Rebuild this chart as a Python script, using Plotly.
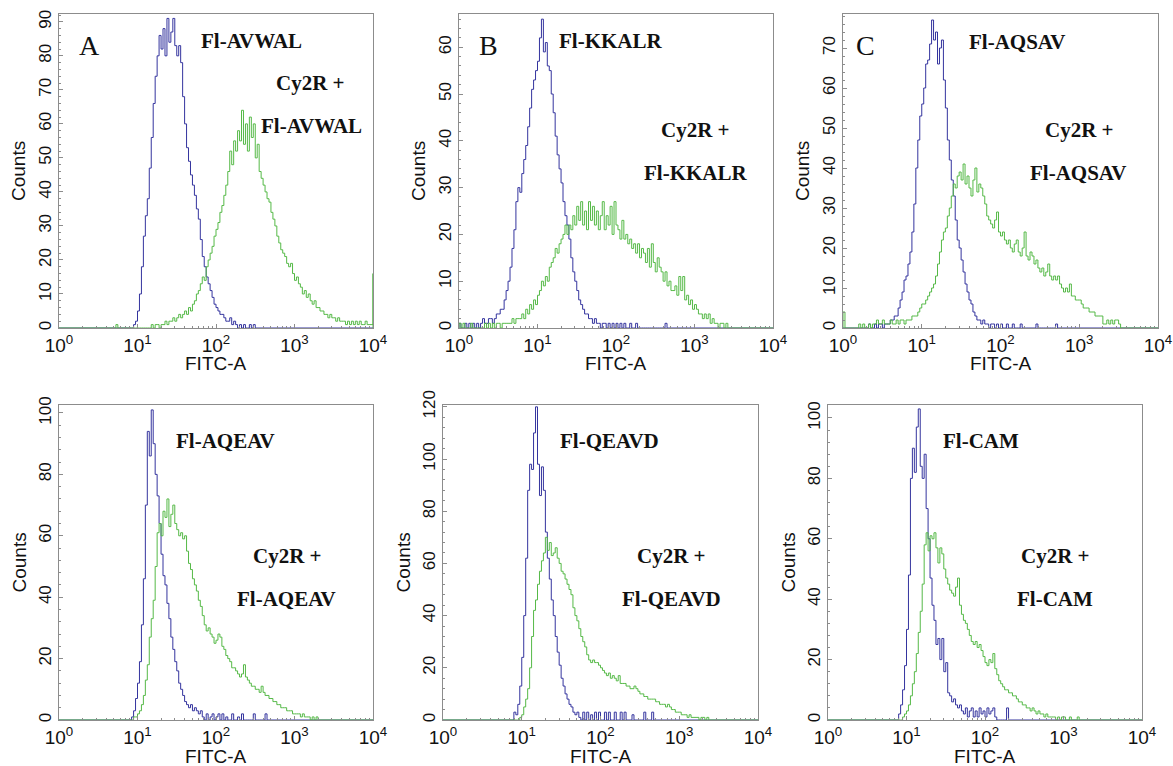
import plotly.graph_objects as go

W, H = 1173, 766
STEP = 0.025  # width of one histogram channel, in decades of FITC-A

BLUE = "#34349e"
GREEN = "#55b947"

# ---------------- A : Fl-AVWAL ----------------
a_blue_start = 0.925
a_blue = [0, 1, 2, 5, 10, 18, 27, 33, 38, 47,
          56, 66, 74, 80, 86, 82, 88, 80, 91, 84,
          87, 91, 83, 80, 83, 78, 68, 60, 53, 49,
          45, 42, 39, 35, 32, 26, 21, 18, 15, 13,
          11, 9, 7, 6, 5, 4, 4, 3, 2, 2,
          3, 1, 2, 1, 0, 1, 0, 1, 0, 0,
          1, 0, 1, 0]
a_green_start = 0.700
a_green = [0, 1, 0, 0, 0, 0, 0, 0, 0, 0,
           0, 0, 0, 0, 0, 0, 0, 0, 0, 1,
           0, 1, 1, 0, 1, 1, 2, 1, 2, 2,
           3, 2, 3, 4, 3, 4, 5, 4, 6, 5,
           7, 8, 10, 11, 13, 15, 14, 18, 20, 22,
           24, 27, 29, 31, 34, 36, 39, 42, 46, 52,
           48, 55, 52, 58, 55, 64, 54, 60, 52, 62,
           56, 60, 50, 54, 46, 44, 42, 40, 38, 37,
           34, 32, 30, 27, 25, 23, 22, 21, 19, 18,
           19, 16, 14, 15, 13, 12, 10, 11, 9, 10,
           8, 7, 8, 6, 6, 5, 5, 4, 4, 3,
           4, 3, 3, 2, 3, 2, 2, 2, 1, 2,
           1, 2, 1, 2, 1, 2, 1, 1, 2, 1,
           1, 1, 16]

# ---------------- B : Fl-KKALR ----------------
b_blue_start = 0.000
b_blue = [1, 0, 0, 1, 0, 1, 0, 1, 0, 1,
          0, 1, 2, 1, 1, 2, 2, 1, 2, 3,
          3, 4, 4, 6, 8, 10, 13, 17, 21, 27,
          30, 29, 33, 36, 39, 43, 47, 51, 53, 55,
          57, 62, 66, 59, 61, 56, 55, 50, 46, 41,
          37, 34, 31, 27, 24, 22, 19, 15, 12, 10,
          8, 6, 5, 4, 3, 3, 2, 2, 1, 2,
          1, 1, 0, 1, 1, 0, 1, 0, 1, 0,
          1, 0, 1, 0, 1, 0, 0, 1, 0, 0,
          1, 0, 0, 0, 0, 0, 0, 0, 0, 0,
          0, 0, 0, 0, 0, 1, 0]
b_green_start = 0.000
b_green = [1, 0, 1, 0, 0, 0, 1, 0, 0, 0,
           0, 0, 0, 1, 0, 1, 0, 1, 0, 1,
           1, 0, 1, 1, 1, 1, 1, 2, 1, 2,
           2, 2, 3, 2, 4, 3, 5, 4, 6, 5,
           7, 8, 10, 9, 11, 10, 13, 14, 15, 17,
           16, 18, 19, 20, 22, 20, 22, 21, 24, 22,
           26, 23, 27, 22, 25, 21, 27, 23, 26, 22,
           25, 21, 24, 27, 21, 24, 22, 26, 20, 27,
           22, 21, 19, 23, 19, 20, 18, 19, 17, 18,
           16, 18, 15, 17, 16, 14, 17, 13, 18, 14,
           12, 15, 13, 12, 10, 12, 9, 10, 8, 8,
           9, 7, 11, 8, 11, 6, 7, 5, 6, 4,
           5, 4, 3, 3, 2, 3, 2, 3, 1, 2,
           1, 1, 0, 1, 1, 0, 1, 0]

# ---------------- C : Fl-AQSAV ----------------
c_blue_start = 0.300
c_blue = [0, 1, 0, 0, 1, 0, 1, 1, 0, 1,
          1, 1, 2, 2, 3, 3, 5, 7, 9, 12,
          13, 16, 19, 24, 31, 40, 47, 53, 56, 60,
          66, 67, 71, 77, 72, 74, 66, 70, 72, 62,
          55, 47, 42, 37, 33, 27, 22, 20, 17, 14,
          11, 9, 7, 6, 4, 3, 2, 2, 1, 2,
          1, 1, 0, 1, 1, 0, 1, 0, 1, 0,
          0, 1, 0, 0, 1, 0, 0, 0, 1, 0,
          0, 0, 0, 0, 0, 0, 1, 0, 0, 0,
          0, 0, 0, 0, 0, 0, 1, 0]
c_green_start = 0.000
c_green = [4, 0, 0, 0, 0, 0, 0, 0, 1, 0,
           1, 0, 0, 1, 0, 1, 1, 2, 1, 1,
           2, 1, 1, 1, 2, 1, 1, 2, 1, 2,
           2, 1, 2, 2, 2, 3, 3, 3, 4, 5,
           6, 6, 7, 8, 9, 10, 11, 13, 16, 19,
           22, 24, 25, 28, 30, 33, 36, 35, 38, 39,
           37, 41, 36, 38, 35, 33, 37, 40, 34, 36,
           35, 33, 31, 28, 27, 26, 25, 27, 29, 24,
           23, 24, 22, 21, 22, 20, 19, 21, 22, 19,
           18, 20, 24, 18, 17, 19, 18, 16, 17, 15,
           14, 15, 13, 14, 16, 13, 12, 13, 12, 13,
           11, 10, 9, 10, 9, 11, 8, 8, 7, 7,
           7, 6, 5, 5, 5, 4, 4, 4, 3, 3,
           3, 3, 1, 1, 2, 1, 2, 1, 2, 2,
           1, 0]

# ---------------- D : Fl-AQEAV ----------------
d_blue_start = 0.900
d_blue = [0, 1, 3, 7, 12, 19, 31, 46, 70, 94,
          86, 101, 90, 80, 73, 64, 54, 47, 44, 38,
          33, 27, 23, 19, 16, 12, 10, 8, 6, 5,
          4, 5, 3, 4, 3, 2, 3, 1, 0, 2,
          0, 1, 2, 0, 1, 2, 0, 2, 0, 1,
          0, 0, 2, 0, 0, 1, 0, 2, 0, 0,
          0, 0, 0, 2, 0, 0, 0, 0, 0, 2,
          0]
d_green_start = 0.925
d_green = [0, 1, 1, 2, 3, 5, 8, 13, 18, 27,
           33, 39, 50, 61, 64, 60, 68, 66, 72, 63,
           67, 70, 64, 62, 60, 61, 59, 60, 55, 51,
           49, 46, 44, 42, 39, 37, 34, 31, 29, 30,
           28, 27, 25, 26, 28, 27, 24, 23, 21, 20,
           19, 17, 17, 16, 15, 14, 15, 18, 14, 13,
           12, 11, 11, 10, 10, 9, 11, 9, 8, 8,
           7, 7, 6, 6, 5, 5, 4, 4, 4, 3,
           3, 3, 2, 2, 2, 2, 1, 2, 1, 1,
           1, 0, 1, 0, 1, 0]

# ---------------- E : Fl-QEAVD ----------------
e_blue_start = 0.875
e_blue = [0, 3, 2, 6, 13, 24, 40, 62, 88, 98,
          96, 110, 120, 98, 86, 97, 88, 72, 62, 54,
          46, 40, 32, 26, 21, 16, 13, 10, 8, 6,
          5, 3, 2, 3, 1, 0, 3, 0, 3, 0,
          2, 0, 3, 0, 3, 0, 0, 3, 0, 3,
          0, 0, 3, 0, 0, 3, 0, 3, 0, 0,
          0, 2, 0, 0, 0, 0, 0, 3, 0, 0,
          0, 3, 0]
e_green_start = 0.950
e_green = [0, 1, 2, 5, 8, 12, 20, 32, 42, 46,
           52, 57, 61, 64, 70, 65, 68, 63, 64, 66,
           62, 60, 57, 56, 54, 52, 50, 48, 43, 40,
           38, 35, 32, 30, 28, 25, 23, 22, 23, 22,
           22, 21, 20, 19, 18, 17, 18, 16, 17, 16,
           15, 17, 14, 14, 14, 13, 13, 12, 12, 13,
           12, 11, 10, 10, 9, 9, 8, 8, 8, 8,
           7, 7, 6, 6, 6, 5, 6, 5, 4, 4,
           3, 3, 3, 2, 2, 2, 1, 2, 1, 1,
           1, 1, 0, 1, 1, 0, 1, 0]

# ---------------- F : Fl-CAM ----------------
f_blue_start = 0.875
f_blue = [0, 2, 5, 10, 18, 30, 48, 80, 90, 82,
          97, 103, 84, 80, 88, 70, 60, 47, 38, 33,
          25, 27, 20, 27, 16, 19, 9, 8, 6, 7,
          5, 4, 5, 3, 2, 4, 1, 3, 4, 1,
          3, 1, 4, 2, 3, 1, 4, 2, 3, 4,
          1, 0, 0, 0, 0, 0, 4, 0]
f_green_start = 0.925
f_green = [0, 1, 2, 3, 5, 8, 12, 16, 22, 29,
           36, 45, 58, 62, 56, 61, 60, 62, 57, 52,
           57, 55, 50, 47, 45, 43, 42, 41, 44, 47,
           38, 35, 33, 32, 30, 28, 26, 25, 26, 24,
           25, 23, 21, 19, 18, 20, 19, 22, 17, 15,
           13, 12, 11, 10, 10, 9, 9, 8, 8, 7,
           6, 6, 5, 5, 4, 4, 3, 4, 3, 2,
           3, 2, 2, 1, 2, 1, 1, 1, 1, 0,
           1, 0, 1, 1, 0, 0, 1, 0, 0, 0,
           1, 0]

x_tick_vals = [1, 10, 100, 1000, 10000]
x_tick_text = ["10<sup>0</sup>", "10<sup>1</sup>", "10<sup>2</sup>",
               "10<sup>3</sup>", "10<sup>4</sup>"]
x_minor_vals = [m * d for d in (1, 10, 100, 1000) for m in range(2, 10)]

peptides = ["Fl-AVWAL", "Fl-KKALR", "Fl-AQSAV", "Fl-AQEAV", "Fl-QEAVD", "Fl-CAM"]
panel_letters = ["A", "B", "C", "", "", ""]

# layout of each panel: plot box in pixels (left, top, right, bottom), y range, y tick step
panels = [
    dict(blue=(a_blue_start, a_blue), green=(a_green_start, a_green),
         box=(59, 14, 373, 328), ymax=92.3, dtick=10,
         letter_xy=(89, 46), name_xy=(251, 41), cy_xy=(310, 83), name2_xy=(311, 126)),
    dict(blue=(b_blue_start, b_blue), green=(b_green_start, b_green),
         box=(459, 14, 773, 328), ymax=67.1, dtick=10,
         letter_xy=(488, 46), name_xy=(610, 41), cy_xy=(695, 130), name2_xy=(695, 173)),
    dict(blue=(c_blue_start, c_blue), green=(c_green_start, c_green),
         box=(843, 14, 1158, 328), ymax=78.5, dtick=10,
         letter_xy=(865, 46), name_xy=(1017, 42), cy_xy=(1079, 130), name2_xy=(1078, 173)),
    dict(blue=(d_blue_start, d_blue), green=(d_green_start, d_green),
         box=(59, 405, 373, 720), ymax=102.6, dtick=20,
         letter_xy=None, name_xy=(225, 441), cy_xy=(287, 556), name2_xy=(286, 599)),
    dict(blue=(e_blue_start, e_blue), green=(e_green_start, e_green),
         box=(443, 405, 758, 720), ymax=120.7, dtick=20,
         letter_xy=None, name_xy=(609, 441), cy_xy=(671, 556), name2_xy=(671, 599)),
    dict(blue=(f_blue_start, f_blue), green=(f_green_start, f_green),
         box=(828, 405, 1142, 720), ymax=104.3, dtick=20,
         letter_xy=None, name_xy=(981, 441), cy_xy=(1055, 556), name2_xy=(1055, 599)),
]


def hist_trace(start, counts, color, n):
    xs = [1.0]
    ys = [0]
    for i, c in enumerate(counts):
        xs.append(10 ** (start + STEP * i))
        ys.append(c)
    xs.append(1e4)
    ys.append(0)
    return go.Scatter(x=xs, y=ys, mode="lines",
                      line=dict(color=color, width=1, shape="hv"),
                      xaxis="x" + n, yaxis="y" + n,
                      showlegend=False, hoverinfo="skip")


def px_to_paper(x, y):
    return x / W, 1 - y / H


fig = go.Figure()
layout = {}
annotations = []
sans = "Liberation Sans, Arial, sans-serif"
serif = "Liberation Serif, Times New Roman, serif"
ink = "#111111"
label_font = dict(family=serif, size=21, color=ink)
frame = "#8c8c8c"


def note(text, xy, font, **kw):
    ax, ay = px_to_paper(*xy)
    d = dict(text=text, x=ax, y=ay, xref="paper", yref="paper", showarrow=False,
             xanchor="center", yanchor="middle", font=font)
    d.update(kw)
    annotations.append(d)


for k, p in enumerate(panels):
    n = "" if k == 0 else str(k + 1)
    fig.add_trace(hist_trace(p["blue"][0], p["blue"][1], BLUE, n))
    fig.add_trace(hist_trace(p["green"][0], p["green"][1], GREEN, n))

    left, top, right, bottom = p["box"]
    layout["xaxis" + n] = dict(
        type="log", range=[0, 4], domain=[left / W, right / W], anchor="y" + n,
        automargin=False, ticklabeloverflow="allow",
        tickmode="array", tickvals=x_tick_vals, ticktext=x_tick_text,
        ticks="inside", ticklen=4, tickcolor=frame,
        minor=dict(tickvals=x_minor_vals, ticks="inside", ticklen=2, tickcolor=frame),
        showline=True, mirror=True, linecolor=frame, linewidth=1,
        showgrid=False, zeroline=False,
        tickfont=dict(family=sans, size=19, color=ink),
    )
    layout["yaxis" + n] = dict(
        range=[0, p["ymax"]], domain=[1 - bottom / H, 1 - top / H], anchor="x" + n,
        automargin=False, ticklabeloverflow="allow",
        dtick=p["dtick"], tick0=0, tickangle=-90,
        ticks="inside", ticklen=4, tickcolor=frame,
        minor=dict(dtick=p["dtick"] / 5, ticks="inside", ticklen=2, tickcolor=frame),
        showline=True, mirror=True, linecolor=frame, linewidth=1,
        showgrid=False, zeroline=False,
        tickfont=dict(family=sans, size=17, color=ink),
    )

    # axis titles placed at fixed pixel offsets from the frame
    note("FITC-A", ((left + right) / 2, bottom + 36), dict(family=sans, size=19, color=ink))
    note("Counts", (left - 40, (top + bottom) / 2), dict(family=sans, size=19, color=ink),
         textangle=-90)

    if p["letter_xy"]:
        note(panel_letters[k], p["letter_xy"], dict(family=serif, size=28, color=ink))
    for txt, key in ((peptides[k], "name_xy"), ("Cy2R +", "cy_xy"), (peptides[k], "name2_xy")):
        note("<b>" + txt + "</b>", p[key], label_font)

fig.update_layout(
    width=W, height=H,
    margin=dict(l=0, r=0, t=0, b=0, autoexpand=False),
    paper_bgcolor="white", plot_bgcolor="white",
    annotations=annotations,
    **layout,
)

fig.write_html("out.html", config={"displayModeBar": False},
               post_script="document.body.style.margin = '0px';")
